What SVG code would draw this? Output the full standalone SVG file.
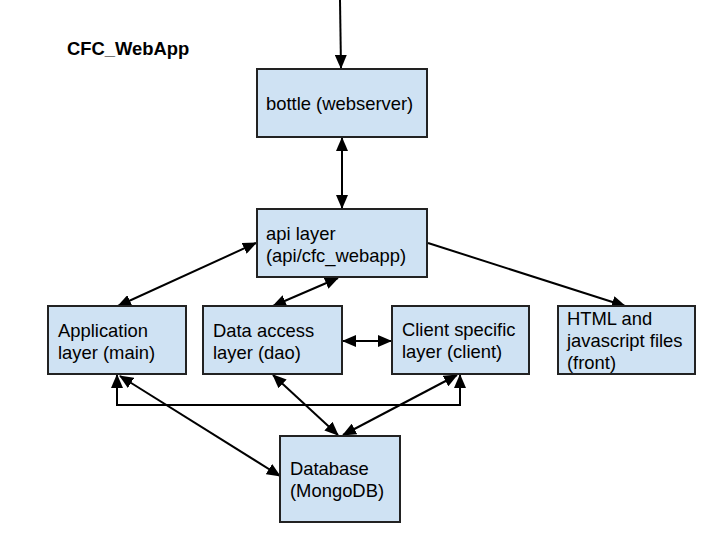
<svg xmlns="http://www.w3.org/2000/svg" width="720" height="540" viewBox="0 0 720 540">
<style>
.box{fill:#cfe2f3;stroke:#222;stroke-width:2}
.t{font-family:"Liberation Sans",Arial,sans-serif;font-size:18.4px;fill:#000}
.title{font-family:"Liberation Sans",Arial,sans-serif;font-size:18.4px;font-weight:bold;fill:#000}
.c{fill:none;stroke:#000;stroke-width:2}
</style>
<defs>
<marker id="ah" markerUnits="userSpaceOnUse" markerWidth="14" markerHeight="12" viewBox="0 0 14 12" refX="13" refY="6" orient="auto-start-reverse">
<path d="M0,0 L14,6 L0,12 Z" fill="#000"/>
</marker>
</defs>
<rect width="720" height="540" fill="#fff"/>
<text class="title" x="67" y="55">CFC_WebApp</text>
<g id="connectors">
<line class="c" x1="340" y1="0" x2="341" y2="68" marker-end="url(#ah)"/>
<line class="c" x1="342" y1="138" x2="342" y2="208" marker-start="url(#ah)" marker-end="url(#ah)"/>
<line class="c" x1="256" y1="243" x2="118" y2="306" marker-start="url(#ah)" marker-end="url(#ah)"/>
<line class="c" x1="338" y1="278" x2="273" y2="306" marker-start="url(#ah)" marker-end="url(#ah)"/>
<line class="c" x1="428" y1="243" x2="625" y2="306" marker-end="url(#ah)"/>
<line class="c" x1="343" y1="341" x2="391" y2="341" marker-start="url(#ah)" marker-end="url(#ah)"/>
<polyline class="c" points="117,375 117,405 460,405 460,375" marker-start="url(#ah)" marker-end="url(#ah)"/>
<line class="c" x1="120" y1="376" x2="280" y2="476" marker-start="url(#ah)" marker-end="url(#ah)"/>
<line class="c" x1="273" y1="375" x2="338" y2="435" marker-start="url(#ah)" marker-end="url(#ah)"/>
<line class="c" x1="457" y1="375" x2="343" y2="435" marker-start="url(#ah)" marker-end="url(#ah)"/>
</g>
<g id="bottle">
<rect class="box" x="257" y="69" width="170" height="68"/>
<text class="t" x="266" y="110">bottle (webserver)</text>
</g>
<g id="api">
<rect class="box" x="257" y="209" width="170" height="68"/>
<text class="t" x="266" y="240">api layer</text>
<text class="t" x="266" y="262">(api/cfc_webapp)</text>
</g>
<g id="application">
<rect class="box" x="48" y="306" width="138" height="68"/>
<text class="t" x="58" y="337">Application</text>
<text class="t" x="58" y="359">layer (main)</text>
</g>
<g id="dataaccess">
<rect class="box" x="203" y="306" width="139" height="68"/>
<text class="t" x="213" y="337">Data access</text>
<text class="t" x="213" y="359">layer (dao)</text>
</g>
<g id="client">
<rect class="box" x="392" y="306" width="137" height="68"/>
<text class="t" x="402" y="336">Client specific</text>
<text class="t" x="402" y="358">layer (client)</text>
</g>
<g id="front">
<rect class="box" x="558" y="306" width="137" height="68"/>
<text class="t" x="567" y="325">HTML and</text>
<text class="t" x="567" y="347">javascript files</text>
<text class="t" x="567" y="369">(front)</text>
</g>
<g id="database">
<rect class="box" x="280" y="436" width="120" height="86"/>
<text class="t" x="290" y="475">Database</text>
<text class="t" x="290" y="497">(MongoDB)</text>
</g>
</svg>
